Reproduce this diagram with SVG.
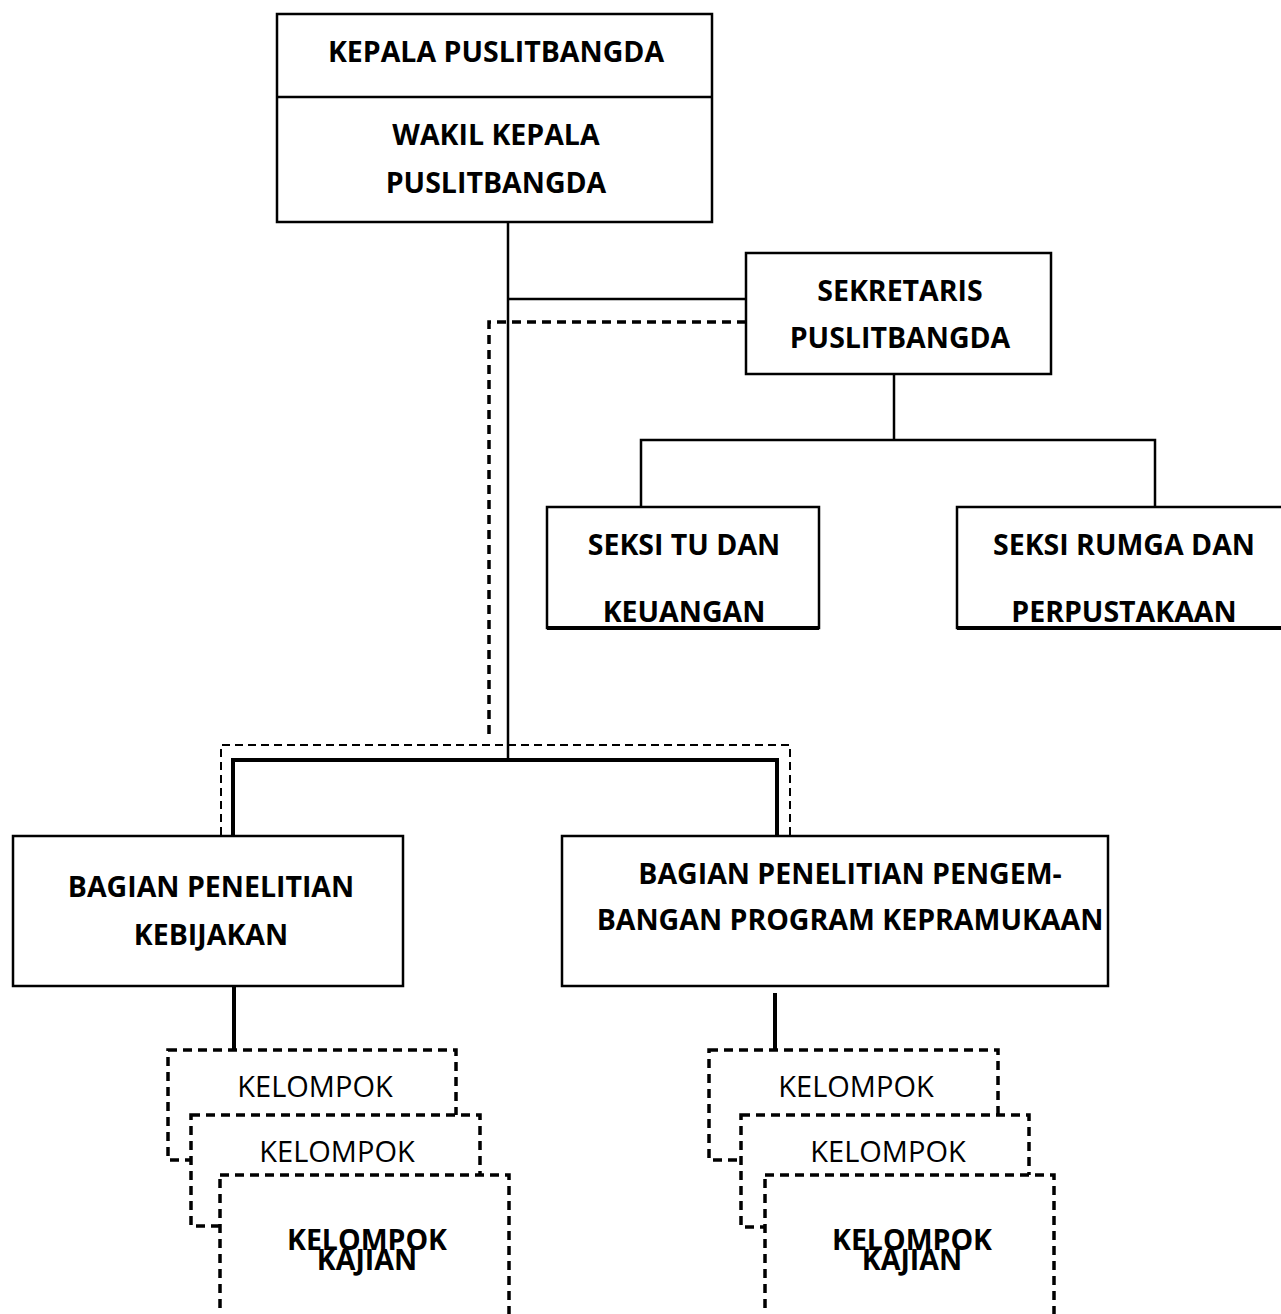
<svg xmlns="http://www.w3.org/2000/svg" width="1281" height="1314" viewBox="0 0 1281 1314">
<style>
.box{fill:#fff;stroke:#000;stroke-width:2.5}
.dbox{fill:#fff;stroke:#000;stroke-width:3.5;stroke-dasharray:9 6}
.ln{fill:none;stroke:#000;stroke-width:2.5}
.thick{fill:none;stroke:#000;stroke-width:4}
.dash{fill:none;stroke:#000;stroke-width:3.5;stroke-dasharray:9 6}
.dashthin{fill:none;stroke:#000;stroke-width:2;stroke-dasharray:8 5}
.b{font-family:"Open Sans","Liberation Sans",sans-serif;font-weight:bold;font-size:28.5px;text-anchor:middle;fill:#000}
.r{font-family:"Open Sans","Liberation Sans",sans-serif;font-size:29px;text-anchor:middle;fill:#000}
</style>
<g id="connectors">
<path class="ln" d="M508 222V760"/>
<path class="ln" d="M508 299H746"/>
<path class="dash" d="M746 322H489V740"/>
<path class="ln" d="M894 374V440"/>
<path class="ln" d="M641 507V440H1155V507"/>
<path class="dashthin" d="M221 835V745H790V835"/>
<path class="thick" d="M233 836V760H777V836"/>
<path class="thick" d="M234 986V1050"/>
<path class="thick" d="M775 993V1050"/>
</g>
<g id="kepala">
<rect class="box" x="277" y="14" width="435" height="208"/>
<line class="ln" x1="277" y1="97" x2="712" y2="97"/>
<text class="b" x="496" y="62">KEPALA PUSLITBANGDA</text>
</g>
<g id="wakil">
<text class="b" x="496" y="145">WAKIL KEPALA</text>
<text class="b" x="496" y="193">PUSLITBANGDA</text>
</g>
<g id="sekretaris">
<rect class="box" x="746" y="253" width="305" height="121"/>
<text class="b" x="900" y="301">SEKRETARIS</text>
<text class="b" x="900" y="348">PUSLITBANGDA</text>
</g>
<g id="seksi-tu">
<rect class="box" x="547" y="507" width="272" height="121"/>
<line x1="547" y1="628" x2="819" y2="628" stroke-width="4" stroke="#000"/>
<text class="b" x="684" y="555">SEKSI TU DAN</text>
<text class="b" x="684" y="622">KEUANGAN</text>
</g>
<g id="seksi-rumga">
<rect class="box" x="957" y="507" width="330" height="121"/>
<line x1="957" y1="628" x2="1281" y2="628" stroke-width="4" stroke="#000"/>
<text class="b" x="1124" y="555">SEKSI RUMGA DAN</text>
<text class="b" x="1124" y="622">PERPUSTAKAAN</text>
</g>
<g id="bagian-kebijakan">
<rect class="box" x="13" y="836" width="390" height="150"/>
<text class="b" x="211" y="897">BAGIAN PENELITIAN</text>
<text class="b" x="211" y="945">KEBIJAKAN</text>
</g>
<g id="bagian-pengembangan">
<rect class="box" x="562" y="836" width="546" height="150"/>
<text class="b" x="850" y="884">BAGIAN PENELITIAN PENGEM-</text>
<text class="b" x="850" y="930">BANGAN PROGRAM KEPRAMUKAAN</text>
</g>
<g id="kelompok-left-1">
<rect class="dbox" x="168" y="1050" width="288" height="110"/>
<text class="r" x="315" y="1097">KELOMPOK</text>
</g>
<g id="kelompok-left-2">
<rect class="dbox" x="191" y="1115" width="289" height="111"/>
<text class="r" x="337" y="1162">KELOMPOK</text>
</g>
<g id="kelompok-left-3">
<rect class="dbox" x="220" y="1175" width="289" height="145"/>
<text class="b" x="367" y="1250">KELOMPOK</text>
<text class="b" x="367" y="1270">KAJIAN</text>
</g>
<g id="kelompok-right-1">
<rect class="dbox" x="709" y="1050" width="289" height="110"/>
<text class="r" x="856" y="1097">KELOMPOK</text>
</g>
<g id="kelompok-right-2">
<rect class="dbox" x="741" y="1115" width="288" height="112"/>
<text class="r" x="888" y="1162">KELOMPOK</text>
</g>
<g id="kelompok-right-3">
<rect class="dbox" x="765" y="1175" width="289" height="145"/>
<text class="b" x="912" y="1250">KELOMPOK</text>
<text class="b" x="912" y="1270">KAJIAN</text>
</g>
</svg>
